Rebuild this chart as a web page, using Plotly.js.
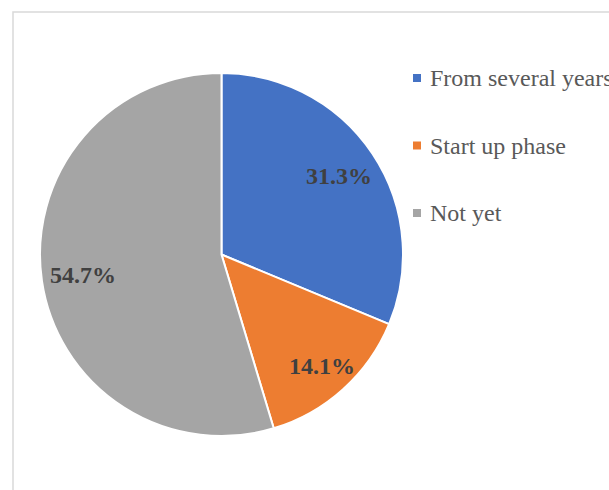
<!DOCTYPE html>
<html>
<head>
<meta charset="utf-8">
<script src="https://cdn.plot.ly/plotly-3.0.1.min.js"></script>
<style>html,body{margin:0;padding:0;background:#fff;}#chart{width:609px;height:490px;}</style>
</head>
<body>
<div id="chart"></div>
<script>
const categories = ["From several years", "Start up phase", "Not yet"];
const values = [31.3, 14.1, 54.7];
const colors = ["#4472C4", "#ED7D31", "#A5A5A5"];

const W = 609, H = 490;
const pieLeft = 40, pieRight = 403, pieTop = 73, pieBottom = 436;
const cx = (pieLeft + pieRight) / 2, cy = (pieTop + pieBottom) / 2, R = (pieRight - pieLeft) / 2;
const labelRadiusFrac = [0.78, 0.83, 0.77];
const legendX = 428, legendY0 = 78, legendStep = 67.5;
const serif = "Liberation Serif, Times New Roman, serif";

const total = values.reduce((a, b) => a + b, 0);
let cum = 0;
const sliceLabels = values.map((v, i) => {
  const mid = (cum + v / 2) / total * 2 * Math.PI;
  cum += v;
  const r = R * labelRadiusFrac[i];
  return {
    xref: "paper", yref: "paper",
    x: (cx + r * Math.sin(mid)) / W, y: 1 - (cy - r * Math.cos(mid)) / H,
    xanchor: "center", yanchor: "middle", showarrow: false,
    text: "<b>" + v.toFixed(1) + "%</b>",
    font: {family: serif, size: 24, color: "#404040"}
  };
});

const legendLabels = categories.map((c, i) => ({
  xref: "paper", yref: "paper",
  x: legendX / W, y: 1 - (legendY0 + i * legendStep) / H,
  xanchor: "left", yanchor: "middle",
  text: c, showarrow: false,
  font: {family: serif, size: 24, color: "#595959"}
}));

const shapes = [{
  type: "rect", xref: "paper", yref: "paper",
  x0: 13 / W, x1: 1.2, y0: -0.2, y1: 1 - 12 / H,
  line: {color: "#D9D9D9", width: 1.5}, fillcolor: "rgba(0,0,0,0)"
}].concat(categories.map((c, i) => {
  const y = legendY0 + i * legendStep;
  return {
    type: "rect", xref: "paper", yref: "paper",
    x0: 413 / W, x1: 421 / W, y0: 1 - (y + 4) / H, y1: 1 - (y - 4) / H,
    line: {width: 0}, fillcolor: colors[i]
  };
}));

const trace = {
  type: "pie",
  labels: categories,
  values: values,
  sort: false,
  direction: "clockwise",
  rotation: 0,
  marker: {colors: colors, line: {color: "#FFFFFF", width: 2}},
  textinfo: "none",
  hoverinfo: "label+value",
  domain: {x: [pieLeft / W, pieRight / W], y: [1 - pieBottom / H, 1 - pieTop / H]},
  showlegend: false
};

const layout = {
  width: W, height: H,
  margin: {l: 0, r: 0, t: 0, b: 0},
  paper_bgcolor: "#FFFFFF",
  showlegend: false,
  annotations: sliceLabels.concat(legendLabels),
  shapes: shapes
};

Plotly.newPlot("chart", [trace], layout, {displayModeBar: false, staticPlot: true});
</script>
</body>
</html>
